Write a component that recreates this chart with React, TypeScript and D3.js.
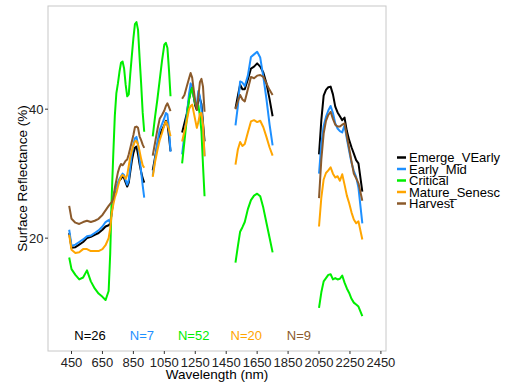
import * as d3 from "d3";

// Wavelength (nm) of each sample; gaps > 40 nm split the lines (water bands removed)
const wavelength = [
  435, 450, 475, 500, 525, 550, 575, 600, 625, 650, 670, 690, 700, 710, 720, 730, 740, 750, 760, 770,
  780, 790, 800, 810, 820, 830, 840, 850, 860, 870, 880, 890, 900, 910, 920,
  975, 990, 1005, 1020, 1035, 1050, 1060, 1070, 1080, 1090,
  1165, 1180, 1195, 1210, 1220, 1230, 1240, 1250, 1260, 1270, 1280, 1290, 1300, 1310,
  1510, 1525, 1540, 1555, 1570, 1590, 1610, 1630, 1650, 1670, 1690, 1710, 1730, 1750,
  2050, 2065, 2080, 2095, 2110, 2125, 2140, 2155, 2170, 2185, 2200, 2215, 2230, 2245, 2260, 2275, 2290,
  2305, 2330,
];

const emergeVEarly = [
  20.8, 18.5, 18.6, 19.0, 19.4, 20.0, 20.2, 20.5, 20.8, 21.3, 21.8, 22.0, 22.3, 24.0, 26.0, 27.2, 28.0,
  28.4, 29.0, 29.2, 29.6, 29.3, 28.6, 28.0, 28.6, 30.3, 32.0, 33.2, 34.0, 34.2, 33.0, 31.5, 30.3, 29.3,
  28.6,
  30.5, 32.5, 34.5, 36.0, 36.8, 37.5, 38.2, 37.8, 35.8, 33.5,
  36.4, 37.8, 39.3, 41.6, 42.7, 43.7, 41.9, 40.5, 39.9, 41.5, 41.6, 40.8, 37.9, 35.0,
  40.1, 42.0, 43.8, 43.1, 43.1, 44.6, 46.3, 46.6, 47.1, 46.6, 45.7, 44.0, 41.6, 38.9,
  33.0, 38.3, 42.1, 43.0, 43.4, 43.5, 42.3, 40.4, 39.5, 38.9, 38.3, 38.7, 36.6, 35.2, 34.1, 33.1, 32.1,
  31.6, 27.2,
];

const earlyMid = [
  21.3, 18.8, 19.0, 19.4, 19.8, 20.3, 20.4, 20.8, 21.2, 21.8, 22.5, 22.8, 22.4, 24.0, 26.4, 27.3, 28.0,
  28.6, 29.2, 29.6, 30.0, 29.8, 29.0, 28.3, 29.0, 31.0, 33.0, 34.5, 35.5, 35.7, 34.5, 32.3, 30.3, 28.2,
  26.3,
  29.7, 32.3, 34.8, 36.8, 37.7, 38.6, 39.4, 39.2, 37.0, 33.4,
  33.0, 36.0, 39.0, 42.4, 44.0, 43.5, 42.1, 40.9, 40.7, 42.8, 42.0, 40.0, 37.3, 32.7,
  37.5, 40.4, 44.3, 44.1, 43.6, 45.2, 48.1, 48.5, 48.9, 48.0, 45.0, 41.6, 37.7, 34.4,
  30.0, 34.6, 37.4, 38.8, 39.8, 40.5, 39.4, 37.8, 37.0, 36.6, 36.4, 37.5, 35.4, 33.5, 31.7, 30.4, 29.5,
  27.8, 22.3,
];

const critical = [
  17.0, 15.2, 14.3, 13.6, 13.9, 15.0, 13.3, 12.2, 11.4, 10.9, 10.4, 11.8, 17.5, 26.5, 33.0, 39.0, 42.5,
  44.0, 45.8, 47.2, 47.4, 46.3, 43.8, 42.0, 42.3, 45.5, 48.3, 51.0, 53.2, 53.5, 52.3, 48.0, 44.0, 39.5,
  36.5,
  35.8, 38.8, 41.5, 44.5, 47.5, 50.0, 50.3, 49.5, 46.1, 42.0,
  31.6, 35.0, 38.4, 41.5, 42.6, 43.3, 42.0, 40.8, 40.4, 40.6, 39.0, 36.5, 31.3, 26.5,
  16.2, 18.7, 21.0, 21.7, 22.5, 24.5, 25.9, 26.6, 26.9, 26.5, 24.7, 22.4, 20.1, 17.8,
  9.2, 11.6, 13.3, 13.8, 14.3, 14.4, 13.6, 13.8, 13.6, 13.7, 14.2, 13.1, 12.2, 11.5, 10.6, 10.0, 9.7,
  9.4, 7.9,
];

const matureSenesc = [
  20.5, 18.2, 17.7, 17.8, 18.3, 18.3, 18.0, 18.0, 18.0, 18.3, 18.9, 20.0, 21.5, 23.8, 25.2, 26.3, 27.0,
  28.0, 28.9, 29.5, 29.8, 29.6, 29.2, 29.8, 31.2, 32.6, 33.6, 34.4, 35.0, 35.1, 34.5, 33.5, 32.3, 31.3,
  30.9,
  29.5, 31.8, 33.6, 35.2, 36.3, 37.5, 38.1, 37.6, 36.8, 35.8,
  35.0, 36.6, 38.2, 40.0, 40.5, 40.7, 39.5, 38.3, 37.1, 38.0, 39.3, 39.4, 37.5, 32.7,
  31.4, 33.7, 34.9, 34.3, 34.6, 36.4, 38.1, 38.3, 38.0, 38.2, 37.2, 35.7, 34.1, 32.8,
  21.8, 26.3, 29.1, 30.1, 30.5, 31.0, 30.0, 29.4, 29.6, 28.9, 29.9, 28.3, 26.6, 25.4, 24.0, 22.9, 22.3,
  22.6, 19.8,
];

const harvest = [
  25.0, 23.0, 22.4, 22.2, 22.5, 22.7, 22.5, 22.7, 23.0, 23.6, 24.3, 25.0, 25.3, 25.6, 26.2, 27.8, 29.0,
  30.2, 31.0, 31.5, 31.3, 31.6, 32.0, 32.2, 33.0, 34.0, 35.0, 36.0, 37.2, 37.3, 37.1, 35.8, 35.2, 34.5,
  34.0,
  32.8, 34.8, 36.8, 38.5, 39.1, 39.8, 40.5, 40.9, 40.3, 39.7,
  41.6, 42.2, 43.5, 44.8, 45.6, 44.9, 43.0, 41.2, 39.9, 41.9, 44.2, 44.7, 43.5, 39.6,
  40.0, 41.2, 42.2, 41.5, 41.2, 43.1, 45.0, 44.8, 45.2, 45.3, 45.0, 44.0, 43.0, 42.2,
  26.2, 32.2, 36.2, 38.2, 39.1, 39.6, 38.5, 37.6, 37.3, 37.3, 37.6, 37.8, 35.8, 33.9, 31.9, 30.0, 29.3,
  28.5, 25.8,
];

const stageNames = ["Emerge_VEarly", "Early_Mid", "Critical", "Mature_Senesc", "Harvest"];
const stageColors = ["#000000", "#1E90FF", "#00EE00", "#FFA500", "#8B5A2B"];
const stageCounts = ["N=26", "N=7", "N=52", "N=20", "N=9"];
const countLabelWl = [570, 905, 1240, 1580, 1920];
const countLabelY = 5;

const xTicks = [450, 650, 850, 1050, 1250, 1450, 1650, 1850, 2050, 2250, 2450];
const yTicks = [20, 40];

const W = 505;
const H = 385;
const panel = { left: 48, right: 386, top: 6, bottom: 351 };
const font = "'Liberation Sans', Arial, Helvetica, sans-serif";

export default function App() {
  const x = d3.scaleLinear().domain([298, 2483]).range([panel.left, panel.right]);
  const y = d3.scaleLinear().domain([2.5, 56.0]).range([panel.bottom, panel.top]);

  const series = [emergeVEarly, earlyMid, critical, matureSenesc, harvest];

  // split the spectrum into contiguous pieces
  const pieces: number[][] = [];
  let cur: number[] = [];
  wavelength.forEach((wl, i) => {
    if (i > 0 && wl - wavelength[i - 1] > 40) {
      pieces.push(cur);
      cur = [];
    }
    cur.push(i);
  });
  pieces.push(cur);

  const line = d3
    .line<number>()
    .x((i) => x(wavelength[i]))
    .y((i) => y(0));

  return (
    <svg
      width={W}
      height={H}
      style={{ position: "absolute", left: 0, top: 0, background: "#fff" }}
      fontFamily={font}
    >
      <rect x={0} y={0} width={W} height={H} fill="#fff" />
      <rect
        x={panel.left}
        y={panel.top}
        width={panel.right - panel.left}
        height={panel.bottom - panel.top}
        fill="#fff"
        stroke="#c8c8c8"
        strokeWidth={1}
      />

      {series.map((vals, s) => (
        <g key={stageNames[s]}>
          {pieces.map((idx, p) => (
            <path
              key={p}
              d={line.y((i) => y(vals[i]))(idx) ?? ""}
              fill="none"
              stroke={stageColors[s]}
              strokeWidth={2}
              strokeLinejoin="round"
              strokeLinecap="butt"
            />
          ))}
        </g>
      ))}

      {stageCounts.map((t, s) => (
        <text
          key={t}
          x={x(countLabelWl[s])}
          y={y(countLabelY)}
          dy="0.36em"
          textAnchor="middle"
          fontSize={13}
          fill={stageColors[s]}
        >
          {t}
        </text>
      ))}

      {/* y axis */}
      {yTicks.map((t) => (
        <g key={t}>
          <line x1={panel.left - 3} x2={panel.left} y1={y(t)} y2={y(t)} stroke="#333" />
          <text
            x={panel.left - 4.5}
            y={y(t)}
            dy="0.36em"
            textAnchor="end"
            fontSize={13}
            fill="#222"
          >
            {t}
          </text>
        </g>
      ))}
      <text
        transform={`translate(22,${(panel.top + panel.bottom) / 2}) rotate(-90)`}
        textAnchor="middle"
        dy="0.36em"
        fontSize={13.5}
        fill="#000"
      >
        Surface Reflectance (%)
      </text>

      {/* x axis */}
      {xTicks.map((t) => (
        <g key={t}>
          <line x1={x(t)} x2={x(t)} y1={panel.bottom} y2={panel.bottom + 3} stroke="#333" />
          <text x={x(t)} y={panel.bottom + 16} textAnchor="middle" fontSize={13} fill="#222">
            {t}
          </text>
        </g>
      ))}
      <text x={(panel.left + panel.right) / 2} y={379} textAnchor="middle" fontSize={13.5} fill="#000">
        Wavelength (nm)
      </text>

      {/* legend */}
      {stageNames.map((n, s) => (
        <g key={n} transform={`translate(0,${157.5 + s * 11.5})`}>
          <line x1={397} x2={406} y1={0} y2={0} stroke={stageColors[s]} strokeWidth={2.5} />
          <text x={409} y={0} dy="0.36em" fontSize={13} fill="#000">
            {n}
          </text>
        </g>
      ))}
    </svg>
  );
}
